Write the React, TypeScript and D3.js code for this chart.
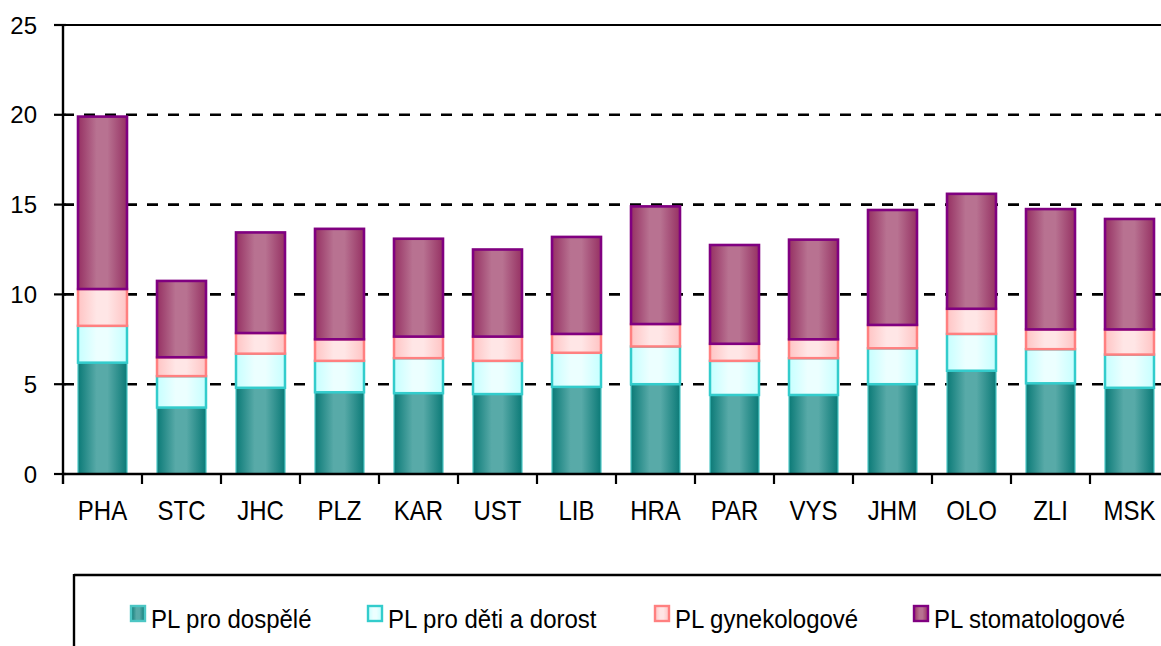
import React from "react";
import * as d3 from "d3";

const categories = ["PHA", "STC", "JHC", "PLZ", "KAR", "UST", "LIB", "HRA", "PAR", "VYS", "JHM", "OLO", "ZLI", "MSK"];
const seriesNames = ["PL pro dospělé", "PL pro děti a dorost", "PL gynekologové", "PL stomatologové"];
const adults = [6.2, 3.7, 4.8, 4.55, 4.5, 4.45, 4.85, 5.0, 4.4, 4.4, 5.0, 5.75, 5.05, 4.8];
const children = [2.05, 1.75, 1.9, 1.75, 1.95, 1.85, 1.9, 2.1, 1.9, 2.05, 2.0, 2.05, 1.9, 1.85];
const gynecologists = [2.05, 1.05, 1.15, 1.2, 1.2, 1.35, 1.05, 1.25, 0.95, 1.05, 1.3, 1.4, 1.1, 1.4];
const dentists = [9.6, 4.25, 5.6, 6.15, 5.45, 4.85, 5.4, 6.55, 5.5, 5.55, 6.4, 6.4, 6.7, 6.15];
const yTicks = [0, 5, 10, 15, 20, 25];

const styles = [
  { dark: "#0b7a77", light: "#58aaa8", stroke: "#4cc6c4", sw: 1.2 },
  { dark: "#c6ffff", light: "#ecffff", stroke: "#33cccc", sw: 2.5 },
  { dark: "#ffc4c4", light: "#ffe6e6", stroke: "#ff8080", sw: 2.5 },
  { dark: "#963163", light: "#b87291", stroke: "#800080", sw: 2.6 },
];

export default function App() {
  const W = 1161, H = 646;
  const left = 63, bottom = 474, top = 25;
  const x = d3.scaleBand<string>().domain(categories).range([left, left + 14 * 79]).paddingInner(0.38).paddingOuter(0.19);
  const y = d3.scaleLinear().domain([0, 25]).range([bottom, top]);
  const keys = ["a", "c", "g", "d"];
  const rows = categories.map((c, i) => ({ cat: c, a: adults[i], c: children[i], g: gynecologists[i], d: dentists[i] }));
  const stacked = d3.stack<any>().keys(keys)(rows);
  const step = x.step();
  const font = "'Liberation Sans', Arial, sans-serif";
  const legendX = [130, 367, 654, 913];

  return (
    <svg width={W} height={H} style={{ position: "absolute", left: 0, top: 0, background: "#fff" }} fontFamily={font}>
      <defs>
        {styles.map((s, i) => (
          <linearGradient key={i} id={`g${i}`} x1="0" x2="1" y1="0" y2="0">
            <stop offset="0" stopColor={s.dark} />
            <stop offset="0.38" stopColor={s.light} />
            <stop offset="0.6" stopColor={s.light} />
            <stop offset="1" stopColor={s.dark} />
          </linearGradient>
        ))}
      </defs>
      {/* gridlines */}
      {yTicks.filter((t) => t > 0 && t < 25).map((t) => (
        <line key={t} x1={left} x2={W} y1={y(t)} y2={y(t)} stroke="#000" strokeWidth={2.6} strokeDasharray="11 10" />
      ))}
      <line x1={left} x2={W} y1={y(25)} y2={y(25)} stroke="#000" strokeWidth={2.2} />
      {/* bars */}
      {stacked.map((layer, li) => (
        <g key={li}>
          {layer.map((d, i) => (
            <rect
              key={i}
              x={x(categories[i])!}
              width={x.bandwidth()}
              y={y(d[1])}
              height={y(d[0]) - y(d[1])}
              fill={`url(#g${li})`}
              stroke={styles[li].stroke}
              strokeWidth={styles[li].sw}
            />
          ))}
        </g>
      ))}
      {/* y axis */}
      <line x1={left} x2={left} y1={top - 1} y2={bottom + 10} stroke="#000" strokeWidth={2.4} />
      {yTicks.map((t) => (
        <g key={t}>
          <line x1={left - 9} x2={left + 3} y1={y(t)} y2={y(t)} stroke="#000" strokeWidth={2.2} />
          <text x={37} y={y(t)} dy="0.36em" textAnchor="end" fontSize={24} fill="#000">{t}</text>
        </g>
      ))}
      {/* x axis */}
      <line x1={left} x2={W} y1={bottom} y2={bottom} stroke="#000" strokeWidth={2.6} />
      {categories.map((c, i) => (
        <g key={c}>
          <line x1={left + (i + 1) * step} x2={left + (i + 1) * step} y1={bottom} y2={bottom + 10} stroke="#000" strokeWidth={2.2} />
          <text
            transform={`translate(${x(c)! + x.bandwidth() / 2},520) scale(1,1.18)`}
            textAnchor="middle"
            fontSize={24}
            fill="#000"
          >{c}</text>
        </g>
      ))}
      {/* legend */}
      <line x1={74} x2={W} y1={575} y2={575} stroke="#000" strokeWidth={2.4} />
      <line x1={74} x2={74} y1={574} y2={H} stroke="#000" strokeWidth={2.4} />
      {seriesNames.map((n, i) => (
        <g key={n}>
          <rect x={legendX[i] + 1} y={606} width={14} height={15} fill={`url(#g${i})`} stroke={styles[i].stroke} strokeWidth={2.4} />
          <text transform={`translate(${legendX[i] + 21},628) scale(1,1.06)`} fontSize={24} fill="#000">{n}</text>
        </g>
      ))}
    </svg>
  );
}
